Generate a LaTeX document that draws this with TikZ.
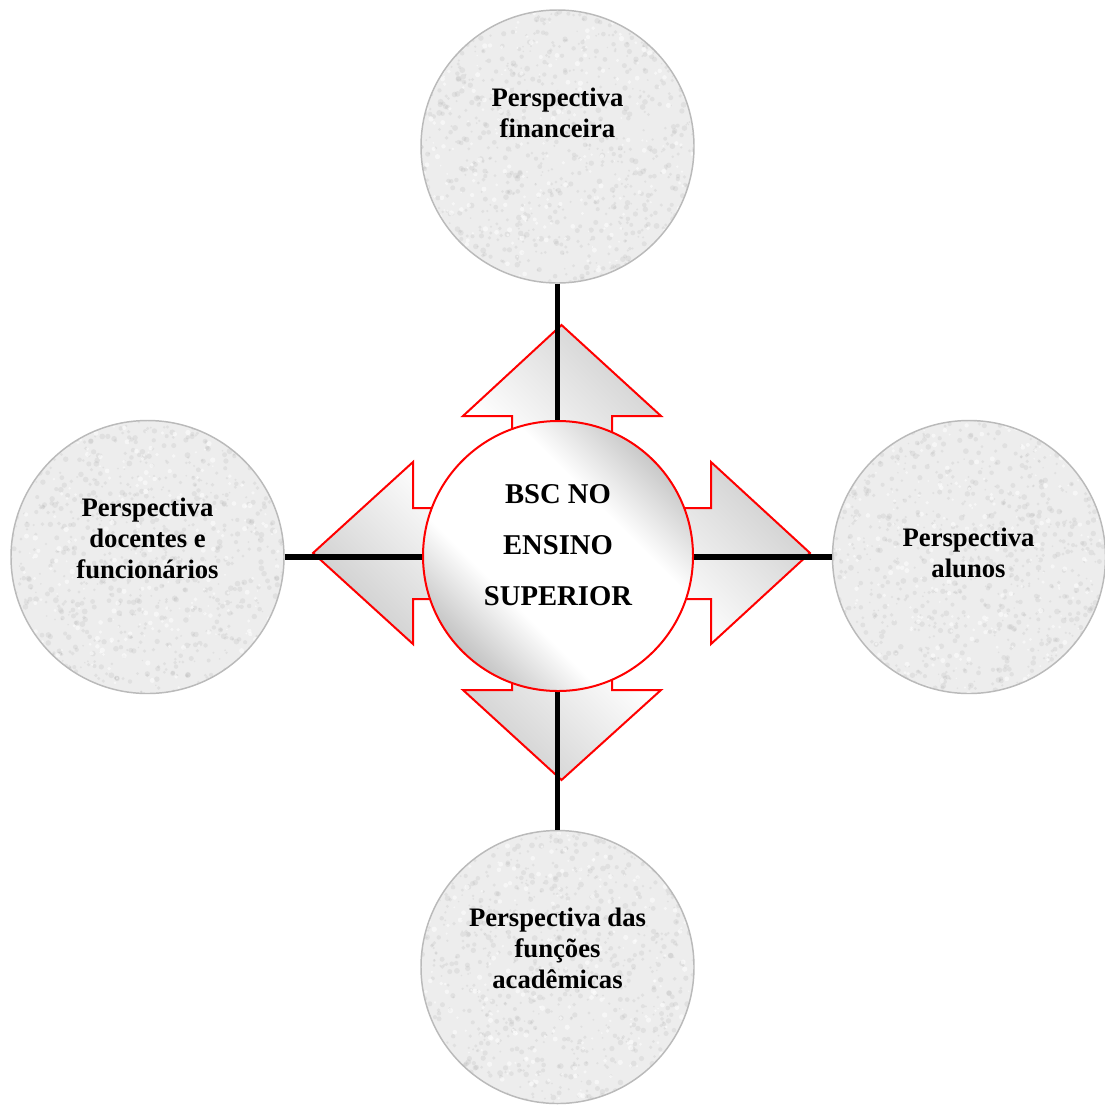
\documentclass[tikz,border=0pt]{standalone}
\usepackage{fontspec}
\setmainfont{Liberation Serif}
\usetikzlibrary{calc}

% soft metallic band: grey towards both ends, broad white middle
\pgfdeclareverticalshading{hubband}{100bp}{%
  color(0bp)=(black!42); color(15bp)=(black!40); color(27bp)=(black!20);
  color(38bp)=(white); color(62bp)=(white); color(73bp)=(black!18);
  color(85bp)=(black!36); color(100bp)=(black!38)}
\pgfdeclareverticalshading{arrowband}{100bp}{%
  color(0bp)=(black!26); color(25bp)=(black!25); color(46bp)=(white);
  color(54bp)=(white); color(75bp)=(black!24); color(100bp)=(black!25)}

% granite-like mottling inside a circular node
\newcommand\granite{%
  \foreach \k in {1,...,1000}{%
    \fill[black!34,opacity=.18]
      ($(path picture bounding box.center)+(rand*140,rand*140)$)
      circle[radius={0.6pt+1.6pt*rnd}];
  }%
  \foreach \k in {1,...,300}{%
    \fill[white,opacity=.55]
      ($(path picture bounding box.center)+(rand*140,rand*140)$)
      circle[radius={0.6pt+1.4pt*rnd}];
  }%
}

\tikzset{
  persp/.style={circle, draw=black!27, line width=1.1pt, fill=black!7,
    minimum size=204.75pt, inner sep=0pt,
    path picture={\granite}},
  hub/.style={circle, draw=red, line width=1.5pt, minimum size=202.5pt,
    inner sep=0pt, shading=hubband, shading angle=-45},
  quadarrow/.style={draw=red, line width=1.5pt, line join=miter,
    shading=arrowband, shading angle=-45},
  axisline/.style={line width=4.2pt, black},
  lbl/.style={align=center, inner sep=0pt,
    font=\fontsize{20}{23.25}\selectfont\bfseries},
  hublbl/.style={align=center, inner sep=0pt,
    font=\fontsize{21.5}{38}\selectfont\bfseries}
}

\begin{document}
\begin{tikzpicture}[x=0.75pt,y=-0.75pt]
\useasboundingbox (0,0) rectangle (1105,1104);
\pgfmathsetseed{7}

% the four perspectives
\node[persp] (fin) at (557.5,146.5) {};
\node[persp] (doc) at (147.5,557) {};
\node[persp] (alu) at (969,557) {};
\node[persp] (fun) at (557.5,967) {};

% four-way arrow behind the hub
\path[quadarrow]
  (561.5,325) -- (661,416) -- (612,416) -- (612,508) -- (711,508)
  -- (711,462) -- (810,553) -- (711,644) -- (711,599) -- (612,599)
  -- (612,690) -- (661,690) -- (561.5,780) -- (463,690) -- (512,690)
  -- (512,599) -- (413,599) -- (413,644) -- (313,553) -- (413,462)
  -- (413,508) -- (512,508) -- (512,416) -- (463,416) -- cycle;

% axes joining opposite perspectives
\draw[axisline] (fin) -- (fun);
\draw[axisline] (doc) -- (alu);

% central hub
\node[hub] (bsc) at (558,556) {};

% texts
\node[lbl] (finT) at (557.5,112.6) {Perspectiva\\financeira};
\node[lbl] (docT) at (147.5,538) {Perspectiva\\docentes e\\funcionários};
\node[lbl] (aluT) at (968.5,552.8) {Perspectiva\\alunos};
\node[lbl] (funT) at (557.5,948) {Perspectiva das\\funções\\acadêmicas};
\node[hublbl] (bscT) at (558,545) {BSC NO\\ENSINO\\SUPERIOR};
\end{tikzpicture}
\end{document}
